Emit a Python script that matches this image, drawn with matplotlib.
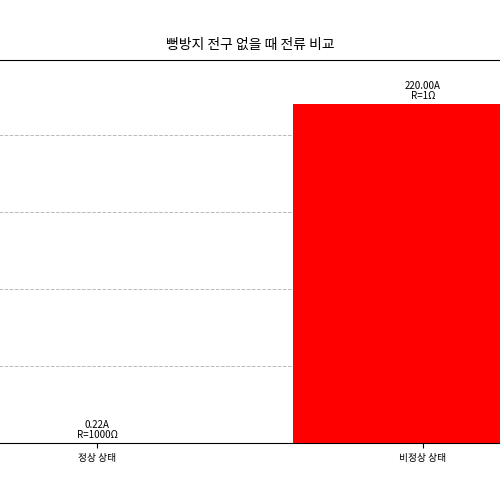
import matplotlib
matplotlib.use("Agg")
import matplotlib.pyplot as plt

plt.rcParams['font.family'] = ['Noto Sans CJK KR', 'DejaVu Sans']

categories = ['정상 상태', '비정상 상태']
currents = [0.22, 220.0]
resistances = [1000, 1]
colors = ['green', 'red']

fig = plt.figure(figsize=(5, 5), dpi=100)
ax = fig.add_axes([-0.132, 0.114, 1.304, 0.766])
x = range(len(categories))
bars = ax.bar(x, currents, width=0.8, color=colors, zorder=2)
for xi, c, r in zip(x, currents, resistances):
    ax.text(xi, c + 2, f'{c:.2f}A\nR={r}Ω', ha='center', va='bottom', fontsize=7, linespacing=1.0)
ax.set_xticks(list(x))
ax.set_xticklabels(categories, fontsize=7)
ax.set_xlim(-0.5, 1.5)
ax.set_ylim(0, 248.7)
ax.yaxis.grid(True, linestyle='--', color='#bbbbbb', linewidth=0.7, zorder=0)
ax.tick_params(axis='y', left=False, labelleft=False)
fig.text(0.5, 0.91, '뻥방지 전구 없을 때 전류 비교', ha='center', va='center', fontsize=10)
fig.savefig('out.png', dpi=100)
